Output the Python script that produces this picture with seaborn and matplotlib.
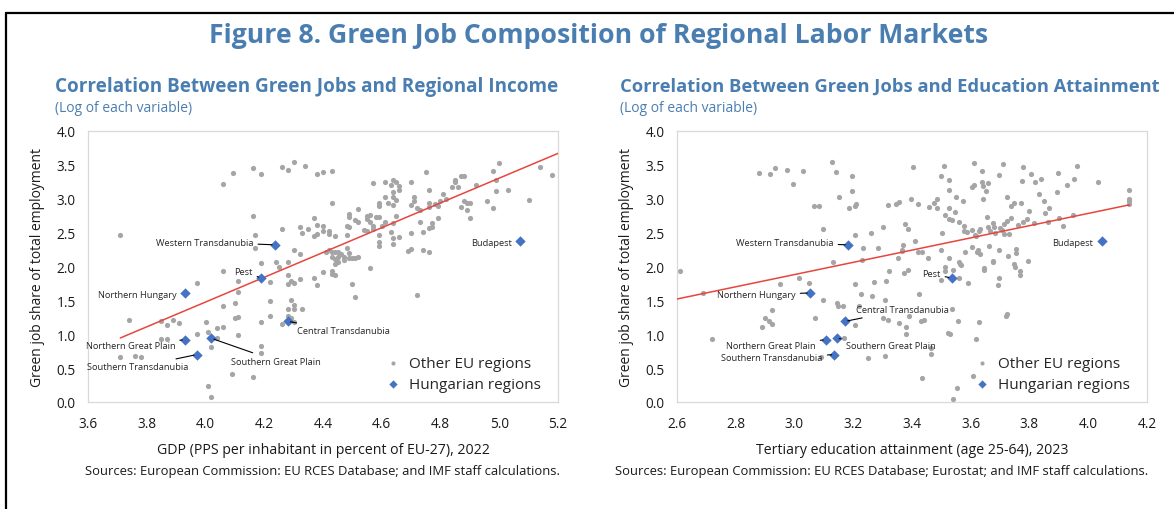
import numpy as np
import pandas as pd
import seaborn as sns
import matplotlib.pyplot as plt
from matplotlib.lines import Line2D

# other EU regions, left panel: log GDP (PPS, % of EU-27) vs log green job share
inc_x = [3.71, 4.06, 4.095, 4.16, 4.19, 4.26, 4.28, 4.30, 4.34, 4.38, 4.40, 4.43, 4.57, 4.43,
         4.16, 4.26, 4.17, 4.17, 4.19, 4.24, 4.25, 4.32, 4.33, 4.35, 4.37, 4.37, 4.38, 4.40,
         4.38, 4.40, 4.42, 4.42, 4.44, 4.48, 4.49, 4.49, 4.49, 4.51, 4.52, 4.52, 4.55, 4.55,
         4.54, 4.58, 4.57, 4.48, 4.41, 4.42, 4.44, 4.46, 4.47, 4.47, 4.49, 4.48, 4.50, 4.52,
         4.30, 4.32, 4.61, 4.63, 4.64, 4.65, 4.66, 4.66, 4.64, 4.61, 4.64, 4.65, 4.59, 4.59,
         4.62, 4.64, 4.70, 4.75, 4.71, 4.71, 4.76, 4.76, 4.70, 4.72, 4.73, 4.76, 4.78, 4.79,
         4.80, 4.81, 4.82, 4.84, 4.85, 4.85, 4.87, 4.88, 4.86, 4.87, 4.88, 4.89, 4.90, 4.89,
         4.90, 4.92, 4.96, 4.98, 4.98, 5.00, 4.99, 4.99, 5.03, 5.10, 5.14, 5.18, 4.55, 4.56,
         4.56, 4.57, 4.59, 4.60, 4.61, 4.59, 4.59, 4.59, 4.63, 4.64, 4.65, 4.64, 4.64, 4.66,
         4.70, 4.73, 4.69, 4.70, 4.74, 4.76, 4.74, 4.76, 4.77, 4.77, 4.79, 4.43, 4.43, 4.44,
         4.45, 4.45, 4.45, 4.44, 4.49, 4.51, 4.40, 4.43, 4.43, 4.44, 4.37, 4.38, 4.50, 4.51,
         4.56, 4.72, 4.33, 4.28, 4.28, 4.06, 3.97, 4.11, 4.11, 4.22, 4.22, 4.22, 4.28, 4.29,
         4.30, 4.32, 4.06, 4.10, 4.10, 4.11, 4.11, 4.19, 4.19, 4.19, 4.29, 4.30, 4.30, 4.28,
         4.26, 4.28, 4.30, 4.29, 3.74, 3.85, 3.87, 3.89, 3.91, 3.85, 3.87, 3.71, 3.76, 3.78,
         4.00, 3.97, 4.01, 4.04, 4.06, 4.02, 4.09, 4.16, 4.01, 4.02, 4.04]
inc_y = [2.47, 3.22, 3.38, 3.45, 3.36, 3.47, 3.42, 3.54, 3.48, 3.36, 3.39, 3.41, 3.23, 2.93,
         2.74, 2.55, 2.47, 2.27, 2.05, 2.07, 2.00, 2.59, 2.50, 2.55, 2.71, 2.45, 2.61, 2.60,
         2.48, 2.53, 2.53, 2.48, 2.45, 2.60, 2.77, 2.73, 2.58, 2.68, 2.65, 2.85, 2.75, 2.70,
         2.54, 2.73, 2.60, 2.46, 2.22, 2.25, 2.21, 2.18, 2.14, 2.10, 2.20, 2.28, 2.13, 2.14,
         2.24, 2.18, 3.24, 3.20, 3.28, 3.24, 3.19, 3.13, 3.10, 3.02, 3.02, 2.98, 2.94, 2.89,
         2.93, 2.91, 3.24, 3.39, 3.02, 2.97, 2.93, 2.88, 2.91, 2.86, 2.84, 3.13, 2.92, 2.90,
         2.97, 3.07, 3.00, 3.18, 3.24, 3.28, 3.34, 3.33, 3.17, 2.88, 2.97, 2.94, 2.94, 2.83,
         2.72, 3.20, 2.97, 2.87, 3.41, 3.53, 3.28, 3.12, 3.13, 2.98, 3.47, 3.35, 2.53, 2.76,
         2.65, 2.55, 2.73, 2.60, 2.66, 2.47, 2.36, 2.30, 2.51, 2.64, 2.75, 2.42, 2.33, 2.43,
         2.49, 2.66, 2.23, 2.26, 2.25, 2.22, 2.51, 2.57, 2.58, 2.64, 2.72, 2.21, 2.14, 2.11,
         2.21, 2.14, 2.06, 2.04, 2.12, 2.12, 1.92, 1.94, 1.89, 1.87, 1.83, 1.73, 1.74, 1.55,
         1.98, 1.58, 1.37, 2.06, 1.87, 1.94, 1.76, 1.78, 1.62, 1.77, 1.49, 1.27, 1.74, 1.79,
         1.76, 1.82, 1.41, 1.46, 1.24, 1.25, 0.99, 1.18, 0.83, 0.73, 1.50, 1.43, 1.38, 1.37,
         1.15, 1.27, 1.18, 1.24, 1.21, 1.20, 1.13, 1.21, 1.17, 0.93, 0.93, 0.67, 0.68, 0.66,
         1.18, 1.00, 1.03, 1.09, 1.10, 0.81, 0.41, 0.37, 0.24, 0.08, 0.95]

# other EU regions, right panel: log tertiary attainment vs log green job share
edu_x = [2.878, 2.916, 2.933, 2.974, 3.029, 2.994, 3.129, 3.142, 3.197, 3.197, 3.151, 3.066,
         3.085, 3.186, 3.205, 3.208, 3.098, 3.206, 3.259, 3.30, 3.233, 3.283, 3.132, 3.23,
         3.319, 3.346, 3.357, 3.395, 3.42, 3.404, 3.375, 3.388, 3.37, 3.366, 3.354, 3.41,
         3.42, 3.508, 3.50, 3.527, 3.527, 3.61, 3.637, 3.605, 3.61, 3.639, 3.641, 3.658,
         3.651, 3.642, 3.695, 3.711, 3.723, 3.773, 3.778, 3.805, 3.819, 3.839, 3.833, 3.848,
         3.867, 3.853, 3.897, 3.963, 3.951, 3.927, 3.892, 4.033, 4.139, 4.139, 4.139, 4.139,
         3.948, 3.915, 3.901, 3.863, 3.459, 3.475, 3.485, 3.485, 3.527, 3.548, 3.55, 3.575,
         3.514, 3.527, 3.536, 3.559, 3.578, 3.578, 3.587, 3.604, 3.613, 3.627, 3.633, 3.618,
         3.654, 3.66, 3.677, 3.678, 3.666, 3.684, 3.70, 3.705, 3.712, 3.723, 3.714, 3.729,
         3.738, 3.746, 3.762, 3.778, 3.793, 3.816, 3.80, 3.772, 3.737, 3.367, 3.435, 3.455,
         3.50, 3.502, 3.527, 3.539, 3.562, 3.566, 3.58, 3.605, 3.624, 3.63, 3.646, 3.663,
         3.677, 3.695, 3.695, 3.692, 3.727, 3.755, 3.75, 3.754, 3.767, 3.796, 3.62, 3.514,
         3.514, 3.50, 3.561, 3.592, 3.323, 3.372, 3.388, 3.27, 3.31, 3.425, 3.309, 3.265,
         3.537, 3.557, 3.629, 3.72, 3.722, 3.431, 3.442, 3.30, 3.318, 3.357, 3.391, 3.561,
         3.644, 3.675, 3.748, 3.767, 3.524, 3.531, 3.618, 3.379, 3.381, 3.465, 3.466, 3.434,
         3.606, 3.553, 3.541, 2.61, 2.687, 2.95, 3.016, 3.049, 3.207, 3.225, 3.098, 3.143,
         3.148, 3.165, 3.219, 3.07, 2.925, 2.899, 2.888, 2.914, 2.925, 2.72, 3.207, 3.09,
         3.251, 3.309, 3.168]
edu_y = [3.376, 3.36, 3.45, 3.42, 3.41, 3.22, 3.54, 3.39, 3.33, 3.12, 3.02, 2.90,
         2.90, 2.86, 2.90, 2.92, 2.55, 2.47, 2.49, 2.58, 2.27, 2.28, 2.06, 2.09,
         2.91, 2.92, 2.95, 2.99, 2.92, 3.47, 2.62, 2.55, 2.32, 2.23, 2.13, 2.37,
         2.21, 3.49, 3.34, 3.28, 3.13, 3.53, 3.41, 3.18, 3.20, 3.24, 3.19, 3.23,
         3.12, 2.99, 3.35, 3.52, 3.02, 3.26, 3.47, 3.36, 3.24, 3.29, 3.07, 2.97,
         2.87, 2.79, 3.38, 3.49, 3.29, 3.20, 3.10, 3.24, 3.13, 3.00, 2.96, 2.92,
         2.76, 2.60, 2.71, 2.66, 2.88, 2.93, 2.99, 2.87, 2.86, 2.81, 3.02, 2.96,
         2.76, 2.70, 2.69, 2.66, 2.60, 2.53, 2.51, 2.54, 2.46, 2.53, 2.55, 2.45,
         2.73, 2.59, 2.64, 2.58, 2.53, 2.49, 2.57, 2.54, 2.62, 2.67, 2.48, 2.48,
         2.72, 2.93, 2.61, 2.66, 2.70, 2.64, 2.82, 2.94, 2.89, 2.25, 2.21, 2.12,
         2.24, 2.50, 2.12, 1.95, 2.04, 2.02, 2.22, 2.29, 2.24, 2.18, 1.95, 2.30,
         2.07, 2.24, 1.83, 1.72, 2.15, 2.26, 1.99, 2.20, 1.88, 2.08, 2.21, 1.99,
         1.94, 1.80, 1.83, 1.75, 1.94, 1.90, 1.95, 1.77, 1.79, 1.59, 1.50, 1.56,
         1.37, 1.19, 1.18, 1.27, 1.30, 1.20, 1.21, 1.24, 1.21, 1.17, 1.27, 2.07,
         1.98, 2.08, 2.04, 1.93, 1.02, 1.01, 0.93, 1.10, 1.00, 0.80, 0.71, 0.35,
         0.38, 0.20, 0.05, 1.94, 1.61, 1.74, 1.83, 1.76, 1.74, 1.59, 1.50, 1.46,
         1.41, 1.41, 1.42, 1.24, 1.36, 1.24, 1.10, 1.20, 1.15, 0.93, 1.13, 0.66,
         0.65, 0.68, 0.94]

# Hungarian regions
hu_names = ['Western Transdanubia', 'Budapest', 'Pest', 'Northern Hungary',
            'Central Transdanubia', 'Northern Great Plain', 'Southern Great Plain',
            'Southern Transdanubia']
hu_green = [2.32, 2.37, 1.83, 1.61, 1.19, 0.92, 0.94, 0.70]
hu_gdp = [4.236, 5.07, 4.19, 3.93, 4.28, 3.93, 4.02, 3.97]
hu_edu = [3.182, 4.046, 3.535, 3.053, 3.172, 3.107, 3.143, 3.136]

# fitted lines (end points)
fit_inc_x = [3.71, 5.2]
fit_inc_y = [0.945, 3.67]
fit_edu_x = [2.6, 4.14]
fit_edu_y = [1.52, 2.91]

# label placement (data coords) and alignment for each Hungarian region
lab_inc = {'Western Transdanubia': (4.163, 2.36, 'right', True),
           'Budapest': (5.043, 2.36, 'right', False),
           'Pest': (4.16, 1.92, 'right', True),
           'Northern Hungary': (3.90, 1.59, 'right', False),
           'Central Transdanubia': (4.313, 1.05, 'left', True),
           'Northern Great Plain': (3.897, 0.84, 'right', True),
           'Southern Great Plain': (4.088, 0.605, 'left', True),
           'Southern Transdanubia': (3.941, 0.517, 'right', True)}
lab_edu = {'Western Transdanubia': (3.133, 2.35, 'right', True),
           'Budapest': (4.016, 2.36, 'right', False),
           'Pest': (3.497, 1.89, 'right', True),
           'Northern Hungary': (3.004, 1.58, 'right', True),
           'Central Transdanubia': (3.208, 1.36, 'left', True),
           'Northern Great Plain': (3.072, 0.83, 'right', True),
           'Southern Great Plain': (3.174, 0.84, 'left', True),
           'Southern Transdanubia': (3.096, 0.65, 'right', True)}

BLUE_T = '#4A7EB0'
GRAY = '#A5A5A5'
BLUE = '#4472C4'
RED = '#E8453C'

sns.set_theme(style='white')
plt.rcParams['font.family'] = ['Open Sans', 'DejaVu Sans']

fig = plt.figure(figsize=(11.74, 5.10), dpi=100)
W, H = 1174, 510

# frame lines (left and top visible)
fig.add_artist(Line2D([6 / W, 6 / W], [0, 1 - 14 / H], color='black', lw=1.6))
fig.add_artist(Line2D([6 / W, 1], [1 - 14 / H, 1 - 14 / H], color='black', lw=1.6))

fig.text(599 / W, 1 - 36 / H, 'Figure 8. Green Job Composition of Regional Labor Markets',
         ha='center', va='center', fontsize=19.2, fontweight='bold', color=BLUE_T)


def panel(left_px, text_px, title_size, xs, ys, hx, fx, fy, labels, xlim, xlabel,
          title, source, src_px):
    ax = fig.add_axes([left_px / W, 1 - 403 / H, 470 / W, 271 / H])
    sns.scatterplot(x=xs, y=ys, color=GRAY, s=14, linewidth=0, ax=ax,
                    label='Other EU regions', zorder=2)
    sns.lineplot(x=fx, y=fy, color=RED, lw=1.1, ax=ax, zorder=3)
    sns.scatterplot(x=hx, y=hu_green, color=BLUE, marker='D', s=28, linewidth=0,
                    ax=ax, label='Hungarian regions', zorder=4)
    for name, px, py in zip(hu_names, hx, hu_green):
        tx, ty, ha, line = labels[name]
        ax.annotate(name, xy=(px, py), xytext=(tx, ty), ha=ha, va='center',
                    fontsize=6.7, color='#262626', zorder=5,
                    arrowprops=dict(arrowstyle='-', color='black', lw=0.8,
                                    shrinkA=1, shrinkB=2) if line else None)
    ax.set_xlim(*xlim)
    ax.set_ylim(0, 4)
    ax.set_xticks(np.arange(xlim[0], xlim[1] + 0.01, 0.2))
    ax.set_yticks(np.arange(0, 4.01, 0.5))
    ax.xaxis.set_major_formatter(plt.FormatStrFormatter('%.1f'))
    ax.yaxis.set_major_formatter(plt.FormatStrFormatter('%.1f'))
    ax.tick_params(direction='in', length=4, width=0.8, color='#C8C8C8',
                   labelsize=9.8, labelcolor='#1a1a1a', pad=10)
    ax.tick_params(axis='y', pad=9)
    for s in ax.spines.values():
        s.set_color('#D9D9D9')
        s.set_linewidth(0.9)
    ax.set_xlabel(xlabel, fontsize=10.2, color='#1a1a1a', labelpad=8)
    ax.set_ylabel('Green job share of total employment', fontsize=10, color='#1a1a1a',
                  labelpad=8)
    ax.legend(loc='lower right', bbox_to_anchor=(0.985, 0.0), frameon=False,
              fontsize=11, handletextpad=0.05, labelspacing=0.4, borderaxespad=0.25,
              markerscale=0.8)
    fig.text(text_px / W, 1 - 87 / H, title, ha='left', va='center', fontsize=title_size,
             fontweight='bold', color=BLUE_T)
    fig.text(text_px / W, 1 - 108 / H, '(Log of each variable)', ha='left', va='center',
             fontsize=10, color=BLUE_T)
    fig.text(src_px / W, 1 - 471 / H, source, ha='left', va='center',
             fontsize=9.4, color='#1a1a1a')
    return ax


panel(88, 55, 13.6, inc_x, inc_y, hu_gdp, fit_inc_x, fit_inc_y, lab_inc, (3.6, 5.2),
      'GDP (PPS per inhabitant in percent of EU-27), 2022',
      'Correlation Between Green Jobs and Regional Income',
      'Sources: European Commission: EU RCES Database; and IMF staff calculations.', 85)
panel(677, 620, 13.2, edu_x, edu_y, hu_edu, fit_edu_x, fit_edu_y, lab_edu, (2.6, 4.2),
      'Tertiary education attainment (age 25-64), 2023',
      'Correlation Between Green Jobs and Education Attainment',
      'Sources: European Commission: EU RCES Database; Eurostat; and IMF staff calculations.',
      615)

fig.savefig('out.png', dpi=100)
